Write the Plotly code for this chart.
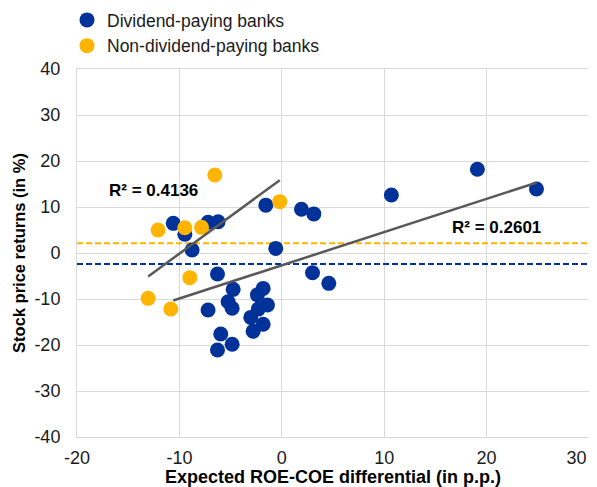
import numpy as np
import plotly.graph_objects as go

# Dividend-paying banks: (ROE-COE differential, stock price return)
div_x = [-10.6, -9.47, -8.76, -7.2, -6.22, -1.56, -0.59, 1.92, 3.13, 3.0, 4.59, 10.7, 19.1, 24.87,
         -6.28, -4.75, -5.24, -4.85, -7.2, -1.82, -2.38, -1.4, -2.3, -3.03, -1.82, -2.8, -5.96, -4.85, -6.28]
div_y = [6.45, 4.06, 0.65, 6.67, 6.8, 10.4, 1.0, 9.5, 8.5, -4.3, -6.6, 12.6, 18.2, 13.9,
         -4.57, -7.9, -10.6, -12.0, -12.4, -7.7, -9.1, -11.3, -12.2, -14.0, -15.5, -17.0, -17.6, -19.85, -21.1]

# Non-dividend-paying banks
non_x = [-6.54, -12.08, -9.47, -7.84, -0.2, -8.98, -13.05, -10.84]
non_y = [16.96, 5.0, 5.5, 5.58, 11.16, -5.36, -9.86, -12.17]

# Average returns (dashed lines)
div_avg = -2.4
non_avg = 2.1

r2_labels = ["R² = 0.4136", "R² = 0.2601"]
r2_pos = [(-12.5, 13.5), (21.0, 5.65)]

x_ticks = [-20, -10, 0, 10, 20, 30]
x_labels = ["-20", "-10", "0", "10", "20", "30\u00a0\u00a0\u00a0\u00a0\u00a0"]
y_ticks = [-40, -30, -20, -10, 0, 10, 20, 30, 40]

BLUE = "#003299"
ORANGE = "#FFB400"
GREY = "#595959"
FONT = "Liberation Sans, Arial"

fig = go.Figure()

# mean lines
for val, col in [(non_avg, ORANGE), (div_avg, BLUE)]:
    fig.add_trace(go.Scatter(x=[-20, 30], y=[val, val], mode="lines",
                             line=dict(color=col, width=2, dash="6px,3px"),
                             showlegend=False, hoverinfo="skip"))

fig.add_trace(go.Scatter(x=div_x, y=div_y, mode="markers", name="Dividend-paying banks",
                         marker=dict(color=BLUE, size=15), legendgroup="a"))
fig.add_trace(go.Scatter(x=non_x, y=non_y, mode="markers", name="Non-dividend-paying banks",
                         marker=dict(color=ORANGE, size=15), legendgroup="b"))

# trend lines from least squares fits
for xs, ys in [(non_x, non_y), (div_x, div_y)]:
    xs = np.array(xs); ys = np.array(ys)
    k, b = np.polyfit(xs, ys, 1)
    xl = np.array([xs.min(), xs.max()])
    fig.add_trace(go.Scatter(x=xl, y=k * xl + b, mode="lines",
                             line=dict(color=GREY, width=2.5),
                             showlegend=False, hoverinfo="skip"))

for txt, (ax, ay) in zip(r2_labels, r2_pos):
    fig.add_annotation(x=ax, y=ay, text="<b>%s</b>" % txt, showarrow=False,
                       font=dict(family=FONT, size=17, color="black"))

# page body has an 8px margin, so the figure is 8px smaller and shifted
fig.update_layout(
    width=589, height=479,
    margin=dict(l=69, r=8, t=61, b=50, autoexpand=False),
    paper_bgcolor="white", plot_bgcolor="white",
    font=dict(family=FONT, size=17, color="black"),
    showlegend=True,
    legend=dict(x=-10/512, y=1 + 67/368,
                xanchor="left", yanchor="top", traceorder="grouped", tracegroupgap=0,
                font=dict(size=17.5, color="#1a1a1a"), bgcolor="rgba(0,0,0,0)"),
    xaxis=dict(range=[-20, 30], tickvals=x_ticks, ticktext=x_labels,
               tickfont=dict(size=18, color="#1a1a1a"), ticklabeloverflow="allow",
               ticks="outside", ticklen=4, tickcolor="rgba(0,0,0,0)",
               showgrid=True, gridcolor="#d9d9d9",
               gridwidth=1, zeroline=False, showline=True, linecolor="#d9d9d9", mirror=True,
               title=dict(text="<b>Expected ROE-COE differential (in p.p.)</b>", standoff=4,
                          font=dict(size=18))),
    yaxis=dict(range=[-40, 40], tickvals=y_ticks, ticktext=[str(v) for v in y_ticks],
               tickfont=dict(size=18, color="#1a1a1a"),
               ticks="outside", ticklen=12, tickcolor="rgba(0,0,0,0)",
               showgrid=True, gridcolor="#d9d9d9",
               gridwidth=1, zeroline=False, showline=True, linecolor="#d9d9d9", mirror=True,
               title=dict(text="<b>Stock price returns (in %)</b>", standoff=4,
                          font=dict(size=16.5))),
)

fig.write_html("out.html")
